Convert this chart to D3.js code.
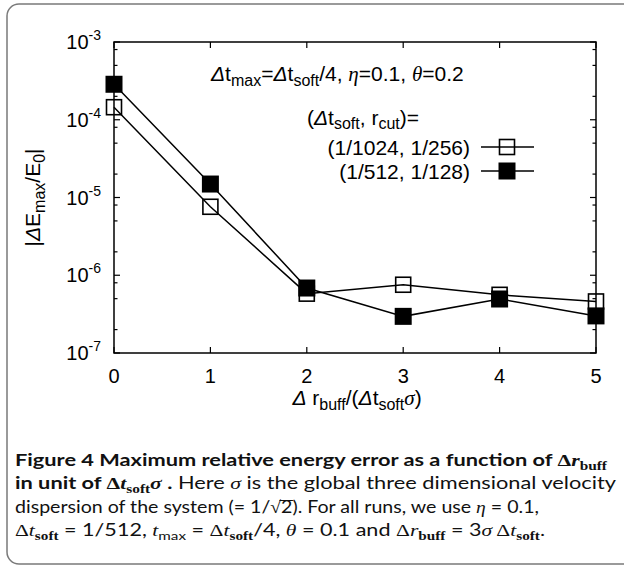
<!DOCTYPE html>
<html>
<head>
<meta charset="utf-8">
<script src="https://cdn.jsdelivr.net/npm/d3@7"></script>
<style>
  html, body { margin: 0; padding: 0; background: #fff; }
  svg { display: block; }
</style>
</head>
<body>
<script>
// Energy error vs buffer radius, two (dt_soft, r_cut) settings
const xValues = [0, 1, 2, 3, 4, 5];
const seriesOpen = [1.45e-4, 7.6e-6, 5.8e-7, 7.55e-7, 5.6e-7, 4.6e-7];     // (1/1024, 1/256)
const seriesFilled = [2.86e-4, 1.49e-5, 6.85e-7, 2.96e-7, 4.95e-7, 3.0e-7]; // (1/512, 1/128)
const xTicks = [0, 1, 2, 3, 4, 5];
const yExponents = [-3, -4, -5, -6, -7];
const minorMultipliers = [2, 5, 8];
const legendLabels = ["(1/1024, 1/256)", "(1/512, 1/128)"];

const W = 624, H = 566;
const m = { left: 114, right: 596, top: 42, bottom: 353 };

const svg = d3.select("body").append("svg").attr("width", W).attr("height", H);

// rounded frame around figure + caption
svg.append("rect")
  .attr("x", 7).attr("y", 4).attr("width", 660).attr("height", 560)
  .attr("rx", 12).attr("ry", 12)
  .attr("fill", "none").attr("stroke", "#7a7a7a").attr("stroke-width", 1.5);

const x = d3.scaleLinear().domain([0, 5]).range([m.left, m.right]);
const y = d3.scaleLog().domain([1e-7, 1e-3]).range([m.bottom, m.top]);

const SANS = "'Liberation Sans', Arial, sans-serif";
const SERIF = "'Liberation Serif', 'Times New Roman', serif";

// rich text: parts = [[text, opts]], opts: sub, sup, it, bold, fam, size
function rich(sel, parts, base) {
  let shift = 0;
  parts.forEach(([t, o = {}]) => {
    const size = o.sub || o.sup ? (o.small || base.small) : (o.size || base.size);
    const target = o.sub ? base.subShift : o.sup ? -base.supShift : 0;
    sel.append("tspan").text(t)
      .attr("dy", target - shift)
      .attr("font-size", size)
      .attr("font-family", o.fam || base.fam)
      .attr("font-style", o.it ? "italic" : "normal")
      .attr("font-weight", o.bold ? "bold" : null);
    shift = target;
  });
  return sel;
}

const plotText = { size: 21, small: 16, fam: SANS, subShift: 5, supShift: 9 };

const g = svg.append("g");

// ticks (inside, all four sides)
const tickLen = 6, minorLen = 3.5;
const ticks = g.append("g").attr("stroke", "#000").attr("stroke-width", 1.2);
xTicks.forEach(v => {
  ticks.append("line").attr("x1", x(v)).attr("x2", x(v)).attr("y1", m.bottom).attr("y2", m.bottom - tickLen);
  ticks.append("line").attr("x1", x(v)).attr("x2", x(v)).attr("y1", m.top).attr("y2", m.top + tickLen);
});
yExponents.forEach(e => {
  const v = Math.pow(10, e);
  ticks.append("line").attr("x1", m.left).attr("x2", m.left + tickLen).attr("y1", y(v)).attr("y2", y(v));
  ticks.append("line").attr("x1", m.right).attr("x2", m.right - tickLen).attr("y1", y(v)).attr("y2", y(v));
});
yExponents.slice(1).forEach(e => {
  minorMultipliers.forEach(k => {
    const v = k * Math.pow(10, e);
    ticks.append("line").attr("x1", m.left).attr("x2", m.left + minorLen).attr("y1", y(v)).attr("y2", y(v));
    ticks.append("line").attr("x1", m.right).attr("x2", m.right - minorLen).attr("y1", y(v)).attr("y2", y(v));
  });
});

// plot border
g.append("rect")
  .attr("x", m.left).attr("y", m.top)
  .attr("width", m.right - m.left).attr("height", m.bottom - m.top)
  .attr("fill", "none").attr("stroke", "#000").attr("stroke-width", 1.5);

// x tick labels
g.append("g").selectAll("text").data(xTicks).join("text")
  .attr("x", d => x(d)).attr("y", m.bottom + 30)
  .attr("text-anchor", "middle")
  .attr("font-family", SANS).attr("font-size", 20)
  .text(d => d);

// y tick labels 10^e
yExponents.forEach(e => {
  const t = g.append("text")
    .attr("x", 101).attr("y", y(Math.pow(10, e)) + 7)
    .attr("text-anchor", "end")
    .attr("font-family", SANS);
  rich(t, [["10"], [String(e), { sup: true }]],
    { size: 20, small: 14, fam: SANS, subShift: 5, supShift: 9 });
});

// axis titles
const xt = g.append("text").attr("x", 357).attr("y", 405)
  .attr("text-anchor", "middle").attr("font-family", SANS);
rich(xt, [["Δ", { it: true }], [" r"], ["buff", { sub: true }], ["/("], ["Δ", { it: true }], ["t"],
  ["soft", { sub: true }], ["σ", { it: true, fam: SERIF }], [")"]], plotText);

const yt = g.append("text")
  .attr("transform", `translate(40,${(m.top + m.bottom) / 2}) rotate(-90)`)
  .attr("text-anchor", "middle").attr("font-family", SANS);
rich(yt, [["|"], ["Δ", { it: true }], ["E"], ["max", { sub: true }], ["/E"], ["0", { sub: true }], ["|"]], plotText);

// annotation at top of plot
const ann = g.append("text").attr("x", 211).attr("y", 81).attr("font-family", SANS);
rich(ann, [["Δ", { it: true }], ["t"], ["max", { sub: true }], ["="], ["Δ", { it: true }], ["t"],
  ["soft", { sub: true }], ["/4, "], ["η", { it: true, fam: SERIF }], ["=0.1, "],
  ["θ", { it: true, fam: SERIF }], ["=0.2"]], plotText);

// legend
const lg = g.append("g");
const lhead = lg.append("text").attr("x", 307).attr("y", 125).attr("font-family", SANS);
rich(lhead, [["("], ["Δ", { it: true }], ["t"], ["soft", { sub: true }], [", r"], ["cut", { sub: true }], [")="]],
  { size: 21, small: 16, fam: SANS, subShift: 4, supShift: 9 });
const legendY = [147, 171];
legendLabels.forEach((lab, i) => {
  lg.append("text").attr("x", 470).attr("y", legendY[i] + 7.5)
    .attr("text-anchor", "end").attr("font-family", SANS).attr("font-size", 21)
    .text(lab);
  lg.append("line").attr("x1", 481).attr("x2", 534)
    .attr("y1", legendY[i]).attr("y2", legendY[i])
    .attr("stroke", "#000").attr("stroke-width", 1.5);
});

// series
const line = d3.line().x(d => x(d[0])).y(d => y(d[1]));
const openPts = xValues.map((v, i) => [v, seriesOpen[i]]);
const filledPts = xValues.map((v, i) => [v, seriesFilled[i]]);

function drawOpen(sel, cx, cy) {
  const s = 15;
  sel.append("rect").attr("x", cx - s / 2).attr("y", cy - s / 2).attr("width", s).attr("height", s)
    .attr("fill", "none").attr("stroke", "#000").attr("stroke-width", 1.6);
}
function drawFilled(sel, cx, cy) {
  const s = 17;
  sel.append("rect").attr("x", cx - s / 2).attr("y", cy - s / 2).attr("width", s).attr("height", s)
    .attr("fill", "#000");
}

g.append("path").datum(openPts).attr("d", line)
  .attr("fill", "none").attr("stroke", "#000").attr("stroke-width", 1.5);
openPts.forEach(p => drawOpen(g, x(p[0]), y(p[1])));
drawOpen(lg, 507, legendY[0]);

g.append("path").datum(filledPts).attr("d", line)
  .attr("fill", "none").attr("stroke", "#000").attr("stroke-width", 1.5);
filledPts.forEach(p => drawFilled(g, x(p[0]), y(p[1])));
drawFilled(lg, 507, legendY[1]);

// caption
const CAP = "Lato, 'Open Sans', sans-serif";
const capBase = { size: 17, small: 12, fam: CAP, subShift: 4, supShift: 7 };
const capLines = [
  { y: 466, len: 592, parts: [["Figure 4  Maximum relative energy error as a function of ", { bold: true }],
      ["Δ", { bold: true, fam: SERIF }], ["r", { bold: true, it: true, fam: SERIF }], ["buff", { sub: true, bold: true, fam: SERIF }]] },
  { y: 489, len: 601, parts: [["in unit of ", { bold: true }], ["Δ", { bold: true, fam: SERIF }],
      ["t", { bold: true, it: true, fam: SERIF }], ["soft", { sub: true, bold: true, fam: SERIF }],
      ["σ", { bold: true, it: true, fam: SERIF }], [" .", { bold: true }], [" Here "],
      ["σ", { it: true, fam: SERIF }], ["  is the global three dimensional velocity"]] },
  { y: 513, len: 524, parts: [["dispersion of the system (= 1/"], ["√", { fam: SERIF }], ["2"],
      ["). For all runs, we use "], ["η", { it: true, fam: SERIF }], [" = 0.1,"]] },
  { y: 536, len: 530, parts: [["Δ", { fam: SERIF }], ["t", { it: true, fam: SERIF }], ["soft", { sub: true, bold: true, fam: SERIF }],
      [" = 1/512, "], ["t", { it: true, fam: SERIF }], ["max", { sub: true }], [" = "], ["Δ", { fam: SERIF }],
      ["t", { it: true, fam: SERIF }], ["soft", { sub: true, bold: true, fam: SERIF }], ["/4, "],
      ["θ", { it: true, fam: SERIF }], [" = 0.1 and "], ["Δ", { fam: SERIF }], ["r", { it: true, fam: SERIF }],
      ["buff", { sub: true, bold: true, fam: SERIF }], [" = 3"], ["σ", { it: true, fam: SERIF }], [" Δ", { fam: SERIF }],
      ["t", { it: true, fam: SERIF }], ["soft", { sub: true, bold: true, fam: SERIF }], ["."]] }
];
const capTexts = capLines.map(L => {
  const t = svg.append("text").attr("x", 15).attr("y", L.y).attr("fill", "#111")
    .attr("textLength", L.len).attr("lengthAdjust", "spacingAndGlyphs");
  return rich(t, L.parts, capBase);
});

// overbar of the square root in line 3
const t3 = capTexts[2].node();
const idx = t3.textContent.indexOf("√");
if (idx >= 0) {
  const r1 = t3.getExtentOfChar(idx);
  const r2 = t3.getExtentOfChar(idx + 1);
  svg.append("line")
    .attr("x1", r1.x + r1.width * 0.85).attr("x2", r2.x + r2.width + 0.5)
    .attr("y1", r1.y + 2.5).attr("y2", r1.y + 2.5)
    .attr("stroke", "#111").attr("stroke-width", 1);
}
</script>
</body>
</html>
